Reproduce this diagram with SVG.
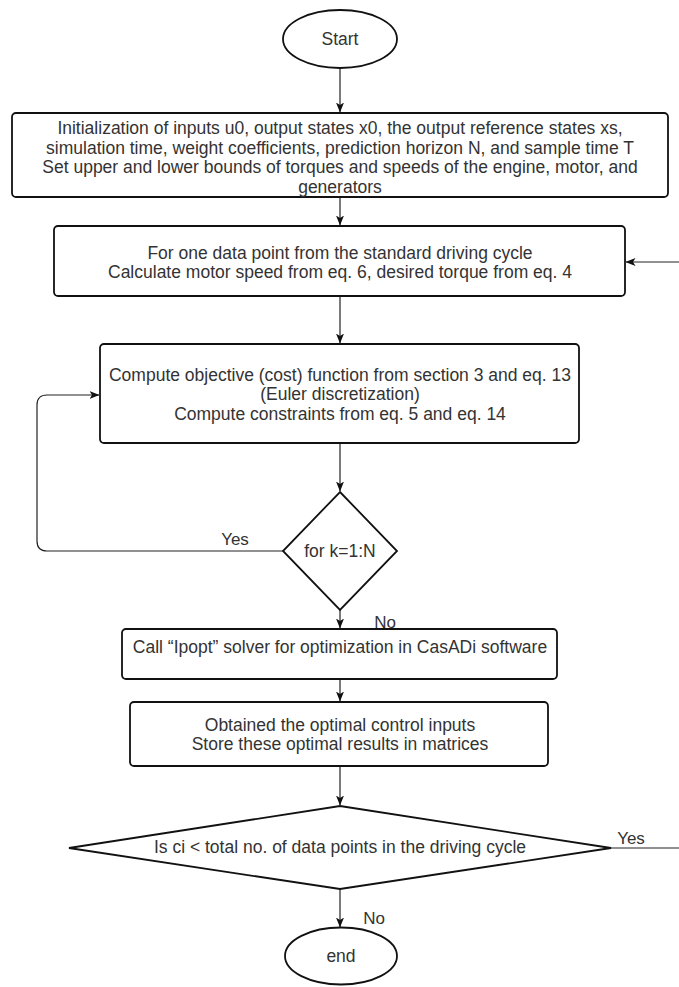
<svg xmlns="http://www.w3.org/2000/svg" width="679" height="987" viewBox="0 0 679 987">
<style>
.shape{fill:#fff;stroke:#111;stroke-width:1.8}
.t{font-family:"Liberation Sans",Arial,sans-serif;font-size:17.5px;fill:#333;text-anchor:middle}
.lbl{font-family:"Liberation Sans",Arial,sans-serif;font-size:17px;fill:#333;text-anchor:middle}
.c{fill:none;stroke:#222;stroke-width:1.2}
</style>
<defs>
<marker id="arr" viewBox="0 0 10 8" refX="9.5" refY="4" markerWidth="10" markerHeight="8" markerUnits="userSpaceOnUse" orient="auto">
<path d="M0,0 L10,4 L0,8 L2.5,4 z" fill="#111"/>
</marker>
</defs>
<rect width="679" height="987" fill="#fff"/>
<g id="connectors">
<path class="c" d="M340,68 V112" marker-end="url(#arr)"/>
<path class="c" d="M340,197 V225" marker-end="url(#arr)"/>
<path class="c" d="M340,296 V343" marker-end="url(#arr)"/>
<path class="c" d="M340,443 V491" marker-end="url(#arr)"/>
<path class="c" d="M283,551 H47 Q37,551 37,541 V405 Q37,395 47,395 H99" marker-end="url(#arr)"/>
<path class="c" d="M340,610 V628" marker-end="url(#arr)"/>
<path class="c" d="M340,679 V701" marker-end="url(#arr)"/>
<path class="c" d="M340,766 V805" marker-end="url(#arr)"/>
<path class="c" d="M340,889 V927" marker-end="url(#arr)"/>
<path class="c" d="M611,848 H700 V262 H626" marker-end="url(#arr)"/>
<text class="lbl" x="235" y="545">Yes</text>
<text class="lbl" x="385" y="628">No</text>
<text class="lbl" x="631" y="844">Yes</text>
<text class="lbl" x="374" y="924">No</text>
</g>
<g id="start">
<ellipse class="shape" cx="340" cy="39" rx="57" ry="29"/>
<text class="t" x="340" y="45">Start</text>
</g>
<g id="init">
<rect class="shape" x="12" y="113" width="656" height="84" rx="4"/>
<text class="t" x="340" y="134">Initialization of inputs u0, output states x0, the output reference states xs,</text>
<text class="t" x="340" y="153.6">simulation time, weight coefficients, prediction horizon N, and sample time T</text>
<text class="t" x="340" y="173.2">Set upper and lower bounds of torques and speeds of the engine, motor, and</text>
<text class="t" x="340" y="192.8">generators</text>
</g>
<g id="datapoint">
<rect class="shape" x="54" y="226" width="571" height="70" rx="4"/>
<text class="t" x="340" y="258.5">For one data point from the standard driving cycle</text>
<text class="t" x="340" y="278.1">Calculate motor speed from eq. 6, desired torque from eq. 4</text>
</g>
<g id="objective">
<rect class="shape" x="100" y="344" width="479" height="99" rx="4"/>
<text class="t" x="340" y="380.5">Compute objective (cost) function from section 3 and eq. 13</text>
<text class="t" x="340" y="400.1">(Euler discretization)</text>
<text class="t" x="340" y="419.7">Compute constraints from eq. 5 and eq. 14</text>
</g>
<g id="loop">
<polygon class="shape" points="340,492 397,551 340,610 283,551"/>
<text class="t" x="340" y="557">for k=1:N</text>
</g>
<g id="ipopt">
<rect class="shape" x="122" y="629" width="435" height="50" rx="4"/>
<text class="t" x="340" y="653">Call “Ipopt” solver for optimization in CasADi software</text>
</g>
<g id="store">
<rect class="shape" x="130" y="702" width="418" height="64" rx="4"/>
<text class="t" x="340" y="730.5">Obtained the optimal control inputs</text>
<text class="t" x="340" y="750.1">Store these optimal results in matrices</text>
</g>
<g id="check">
<polygon class="shape" points="340,806 611,848 340,889 69,848"/>
<text class="t" x="340" y="853">Is ci &lt; total no. of data points in the driving cycle</text>
</g>
<g id="end">
<ellipse class="shape" cx="341" cy="956" rx="56" ry="28.5"/>
<text class="t" x="341" y="962">end</text>
</g>
</svg>
